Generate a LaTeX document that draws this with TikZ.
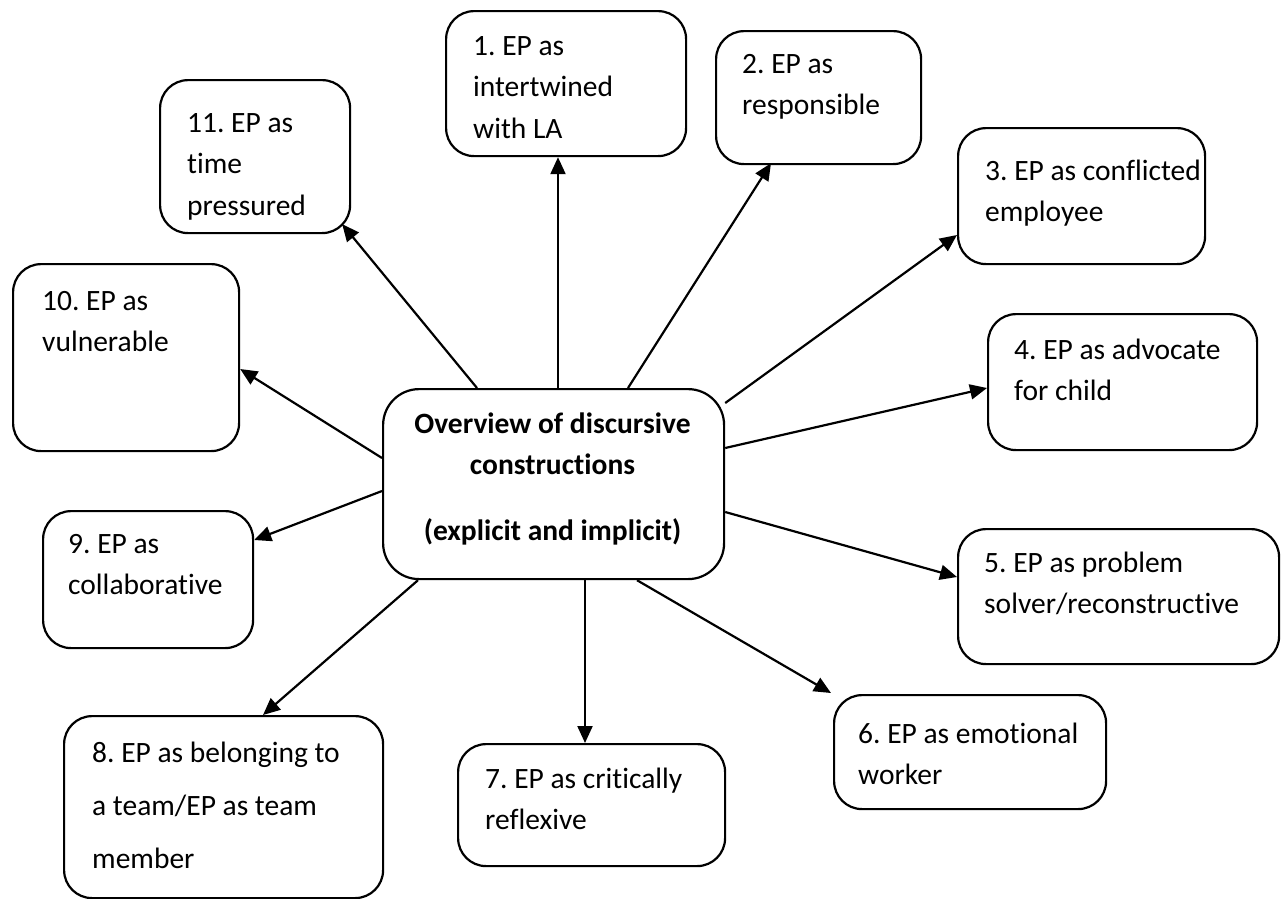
\documentclass[tikz,border=0pt]{standalone}
\usepackage{fontspec}
\setmainfont{Carlito}[Ligatures=CommonOff]
\usetikzlibrary{arrows.meta}
\frenchspacing
\newcommand{\leftlines}[1]{\begin{tabular}[t]{@{}l@{}}#1\end{tabular}}
\newcommand{\centrelines}[1]{\begin{tabular}[t]{@{}c@{}}#1\end{tabular}}
\tikzstyle{construct}=[
	rectangle,
	draw=black,
	line width=2.2pt,
	rounded corners=28pt,
	anchor=north west,
	inner sep=0pt
]
\tikzstyle{overview}=[
	construct,
	rounded corners=36pt
]
\tikzstyle{caption}=[
	anchor=base west,
	inner sep=0pt,
	font=\fontsize{29.5}{41.5}\selectfont
]
\tikzstyle{link}=[
	->,
	>={Triangle[length=17pt,width=15pt]},
	line width=2.2pt
]
\begin{document}
\begin{tikzpicture}[x=1pt,y=-1pt]
\useasboundingbox (0,0) rectangle (1285,898);
% centre
\node [overview, minimum width=341pt, minimum height=190pt] (hub) at (382,388) {};
\node [caption, anchor=base, font=\fontsize{29.5}{41.5}\selectfont\bfseries] (hubtext) at ([shift={(170.5,45)}]hub.north west) {\centrelines{Overview of discursive\\constructions\\[24pt](explicit and implicit)}};
% constructions
\node [construct, minimum width=240pt, minimum height=145pt] (intertwined) at (445,10) {};
\node [caption] (intertwinedtext) at ([shift={(28,45)}]intertwined.north west) {\leftlines{1. EP as\\intertwined\\with LA}};
\node [construct, minimum width=205pt, minimum height=133pt] (responsible) at (715,30) {};
\node [caption] (responsibletext) at ([shift={(27,43)}]responsible.north west) {\leftlines{2. EP as\\responsible}};
\node [construct, minimum width=247pt, minimum height=136pt] (conflicted) at (957,127) {};
\node [caption] (conflictedtext) at ([shift={(28,53)}]conflicted.north west) {\leftlines{3. EP as conflicted\\employee}};
\node [construct, minimum width=269pt, minimum height=136pt] (advocate) at (987,313) {};
\node [caption] (advocatetext) at ([shift={(27,46)}]advocate.north west) {\leftlines{4. EP as advocate\\for child}};
\node [construct, minimum width=321pt, minimum height=135pt] (solver) at (957,528) {};
\node [caption] (solvertext) at ([shift={(27,44)}]solver.north west) {\leftlines{5. EP as problem\\solver/reconstructive}};
\node [construct, minimum width=272pt, minimum height=114pt] (emotional) at (833,694) {};
\node [caption] (emotionaltext) at ([shift={(25,49)}]emotional.north west) {\leftlines{6. EP as emotional\\worker}};
\node [construct, minimum width=267pt, minimum height=122pt] (reflexive) at (457,743) {};
\node [caption] (reflexivetext) at ([shift={(28,45)}]reflexive.north west) {\leftlines{7. EP as critically\\reflexive}};
\node [construct, minimum width=319pt, minimum height=182pt] (team) at (63,715) {};
\node [caption, font=\fontsize{29.5}{53}\selectfont] (teamtext) at ([shift={(29,47)}]team.north west) {\leftlines{8. EP as belonging to\\a team/EP as team\\member}};
\node [construct, minimum width=210pt, minimum height=137pt] (collaborative) at (42,510) {};
\node [caption] (collaborativetext) at ([shift={(26,43)}]collaborative.north west) {\leftlines{9. EP as\\collaborative}};
\node [construct, minimum width=226pt, minimum height=187pt] (vulnerable) at (12,263) {};
\node [caption] (vulnerabletext) at ([shift={(30,47)}]vulnerable.north west) {\leftlines{10. EP as\\vulnerable}};
\node [construct, minimum width=190pt, minimum height=153pt] (pressured) at (159,79) {};
\node [caption] (pressuredtext) at ([shift={(28,53)}]pressured.north west) {\leftlines{11. EP as\\time\\pressured}};
% arrows
\draw [link] ([shift={(176,0)}]hub.north west) -- ([shift={(113,0)}]intertwined.south west);
\draw [link] ([shift={(246,0)}]hub.north west) -- ([shift={(56,-2)}]responsible.south west);
\draw [link] ([shift={(0,15)}]hub.north east) -- ([shift={(0,108)}]conflicted.north west);
\draw [link] ([shift={(0,60)}]hub.north east) -- ([shift={(0,75)}]advocate.north west);
\draw [link] ([shift={(0,124)}]hub.north east) -- ([shift={(0,49)}]solver.north west);
\draw [link] ([shift={(255,0)}]hub.south west) -- ([shift={(-2,-1)}]emotional.north west);
\draw [link] ([shift={(203,0)}]hub.south west) -- ([shift={(128,0)}]reflexive.north west);
\draw [link] ([shift={(36,0)}]hub.south west) -- ([shift={(200,0)}]team.north west);
\draw [link] ([shift={(0,103)}]hub.north west) -- ([shift={(0,30)}]collaborative.north east);
\draw [link] ([shift={(0,70)}]hub.north west) -- ([shift={(0,106)}]vulnerable.north east);
\draw [link] ([shift={(95,0)}]hub.north west) -- ([shift={(-9,-10)}]pressured.south east);
\end{tikzpicture}
\end{document}
